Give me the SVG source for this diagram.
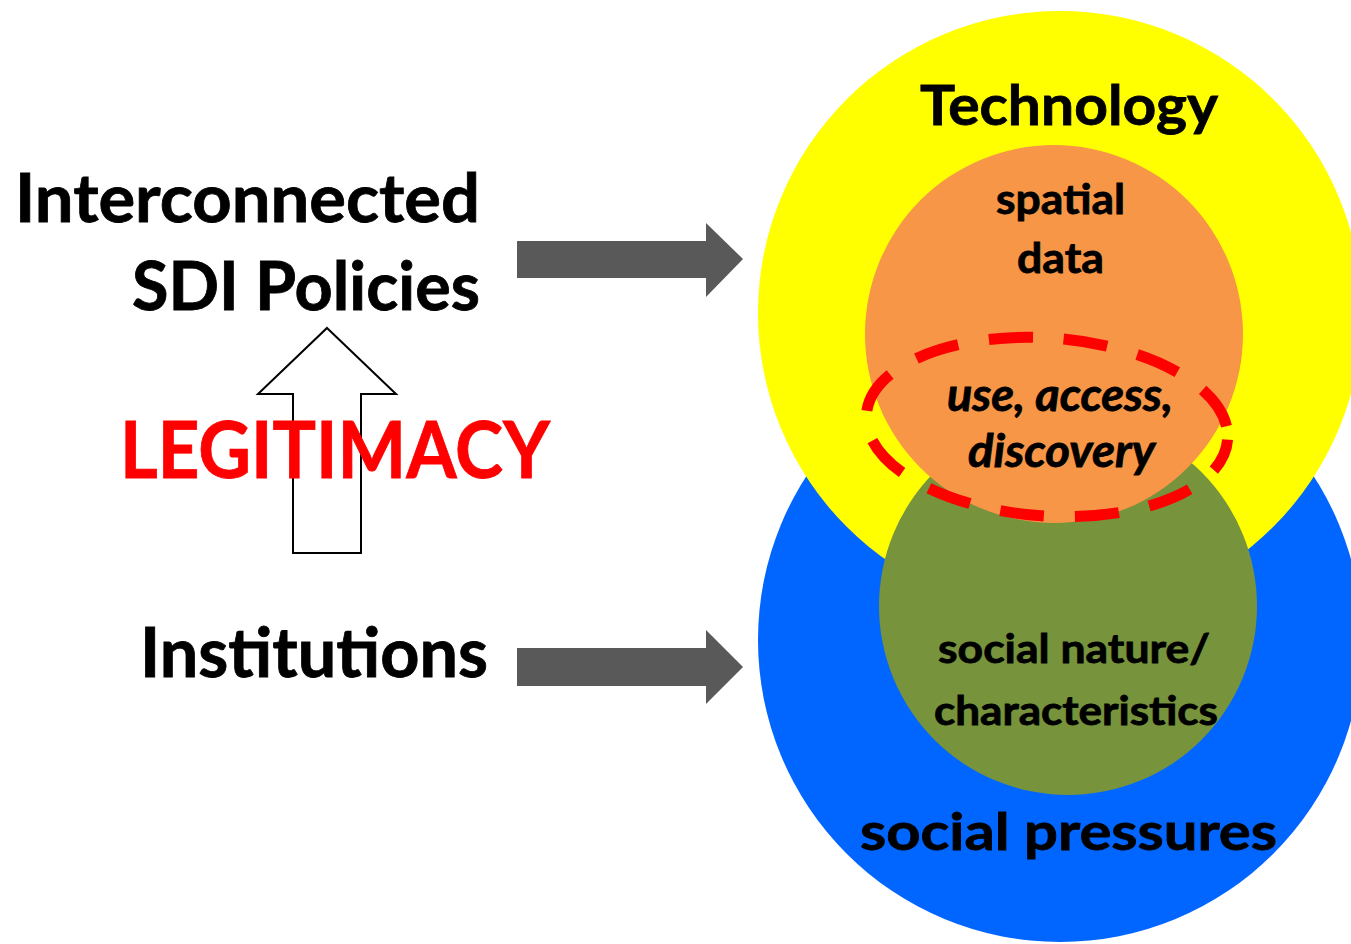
<svg xmlns="http://www.w3.org/2000/svg" width="1351" height="944" viewBox="0 0 1351 944">
<style>
.t{font-family:Lato,"Open Sans","Liberation Sans",sans-serif;font-weight:bold;fill:#000;stroke:#000;stroke-width:0.8}
.i{font-style:italic}
.red{fill:#FF0000;stroke:#FF0000}
</style>
<rect width="1351" height="944" fill="#fff"/>
<g id="social-pressures"><circle cx="1060" cy="640" r="302" fill="#0066FF"/></g>
<g id="technology"><circle cx="1060" cy="313" r="302" fill="#FFFF00"/></g>
<g id="social-nature"><circle cx="1068" cy="606" r="189" fill="#77933C"/></g>
<g id="spatial-data"><circle cx="1054" cy="334" r="189" fill="#F79646"/></g>
<g id="use-access"><ellipse cx="1047" cy="427" rx="181" ry="89" transform="rotate(4 1047 427)" fill="none" stroke="#FF0000" stroke-width="11" stroke-dasharray="44 31" stroke-dashoffset="10"/></g>
<g id="labels-right">
<text class="t" x="920" y="125" font-size="56" textLength="298" lengthAdjust="spacingAndGlyphs">Technology</text>
<text class="t" x="996" y="214" font-size="42" textLength="129" lengthAdjust="spacingAndGlyphs">spatial</text>
<text class="t" x="1017" y="273" font-size="42" textLength="87" lengthAdjust="spacingAndGlyphs">data</text>
<text class="t i" x="947" y="411" font-size="45" textLength="226" lengthAdjust="spacingAndGlyphs">use, access,</text>
<text class="t i" x="968" y="467" font-size="45" textLength="187" lengthAdjust="spacingAndGlyphs">discovery</text>
<text class="t" x="938" y="663" font-size="41" textLength="272" lengthAdjust="spacingAndGlyphs">social nature/</text>
<text class="t" x="934" y="725" font-size="41" textLength="284" lengthAdjust="spacingAndGlyphs">characteristics</text>
<text class="t" x="860" y="850" font-size="52" textLength="417" lengthAdjust="spacingAndGlyphs">social pressures</text>
</g>
<g id="connectors">
<polygon points="517,241 706,241 706,223 743,259 706,297 706,278 517,278" fill="#595959"/>
<polygon points="517,648 706,648 706,630 743,667 706,704 706,686 517,686" fill="#595959"/>
<polygon points="327,328 396,394 361,394 361,553 293,553 293,394 258,394" fill="#fff" stroke="#000" stroke-width="2"/>
</g>
<g id="policies">
<text class="t" x="15" y="222" font-size="66" textLength="465" lengthAdjust="spacingAndGlyphs">Interconnected</text>
<text class="t" x="132" y="310" font-size="66" textLength="348" lengthAdjust="spacingAndGlyphs">SDI Policies</text>
</g>
<g id="legitimacy">
<text class="t red" x="120" y="478" font-size="78" textLength="430" lengthAdjust="spacingAndGlyphs">LEGITIMACY</text>
</g>
<g id="institutions">
<text class="t" x="140" y="677" font-size="68" textLength="348" lengthAdjust="spacingAndGlyphs">Institutions</text>
</g>
</svg>
